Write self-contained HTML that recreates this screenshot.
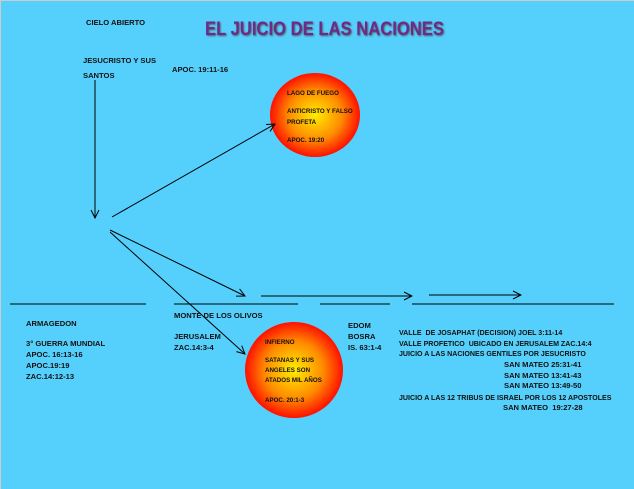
<!DOCTYPE html>
<html><head><meta charset="utf-8"><style>
body{margin:0;width:634px;height:489px;overflow:hidden;background:#55d0fc;font-family:"Liberation Sans",sans-serif}
.t{position:absolute;font-size:7.6px;font-weight:bold;color:#111;line-height:11px;white-space:nowrap}
</style></head><body>
<div style="position:absolute;left:0;top:0;width:634px;height:489px;border-top:1px solid #ccc;border-left:1px solid #ccc;box-sizing:border-box"></div>
<svg width="634" height="489" style="position:absolute;left:0;top:0">
<defs>
<radialGradient id="g1" cx="50%" cy="50%" r="50%"><stop offset="0" stop-color="#ffee00"/><stop offset="0.6" stop-color="#ff8a00"/><stop offset="1" stop-color="#ff1000"/></radialGradient>
<marker id="a" markerWidth="10" markerHeight="10" refX="9" refY="5" orient="auto" markerUnits="userSpaceOnUse"><path d="M1,1 L9,5 L1,9" fill="none" stroke="#000" stroke-width="1"/></marker>
</defs>
<ellipse cx="315" cy="115" rx="45" ry="42" fill="url(#g1)"/>
<ellipse cx="294" cy="370" rx="49" ry="48" fill="url(#g1)"/>
<g stroke="#000" stroke-width="1" fill="none">
<line x1="95" y1="80" x2="95" y2="218" marker-end="url(#a)"/>
<line x1="112" y1="217" x2="275" y2="124" marker-end="url(#a)"/>
<line x1="110" y1="230" x2="245" y2="296" marker-end="url(#a)"/>
<line x1="110" y1="232" x2="245" y2="354" marker-end="url(#a)"/>
<line x1="261" y1="296" x2="412" y2="296" marker-end="url(#a)"/>
<line x1="429" y1="295" x2="521" y2="295" marker-end="url(#a)"/>
<line x1="10" y1="304" x2="146" y2="304"/>
<line x1="174" y1="304" x2="298" y2="304"/>
<line x1="320" y1="304" x2="390" y2="304"/>
<line x1="412" y1="304" x2="614" y2="304"/>
</g>
</svg>
<div style="position:absolute;left:205px;top:19px;font-size:19px;font-weight:bold;color:#6b2a8c;text-shadow:1px 1px 2px #555;white-space:nowrap;transform:scaleX(0.875);transform-origin:0 0">EL JUICIO DE LAS NACIONES</div>
<div class="t" style="left:86px;top:17px">CIELO ABIERTO</div>
<div class="t" style="left:83px;top:53px;line-height:15px">JESUCRISTO Y SUS<br>SANTOS</div>
<div class="t" style="left:172px;top:64px">APOC. 19:11-16</div>
<div class="t" style="left:287px;top:88px;font-size:6.2px">LAGO DE FUEGO</div>
<div class="t" style="left:287px;top:106px;font-size:6.2px">ANTICRISTO Y FALSO<br>PROFETA</div>
<div class="t" style="left:287px;top:135px;font-size:6.2px">APOC. 19:20</div>
<div class="t" style="left:26px;top:318px">ARMAGEDON</div>
<div class="t" style="left:26px;top:338px">3° GUERRA MUNDIAL<br>APOC. 16:13-16<br>APOC.19:19<br>ZAC.14:12-13</div>
<div class="t" style="left:174px;top:310px">MONTE DE LOS OLIVOS</div>
<div class="t" style="left:174px;top:331px">JERUSALEM<br>ZAC.14:3-4</div>
<div class="t" style="left:348px;top:320px">EDOM<br>BOSRA<br>IS. 63:1-4</div>
<div class="t" style="left:265px;top:338px;font-size:6.2px;line-height:10px">INFIERNO</div>
<div class="t" style="left:265px;top:356px;font-size:6.2px;line-height:10px">SATANAS Y SUS<br>ANGELES SON<br>ATADOS MIL AÑOS</div>
<div class="t" style="left:265px;top:395px;font-size:6.2px">APOC. 20:1-3</div>
<div class="t" style="left:399px;top:328px;line-height:10.5px;transform:scaleX(0.93);transform-origin:0 0">VALLE &nbsp;DE JOSAPHAT (DECISION) JOEL 3:11-14<br>VALLE PROFETICO &nbsp;UBICADO EN JERUSALEM ZAC.14:4<br>JUICIO A LAS NACIONES GENTILES POR JESUCRISTO</div>
<div class="t" style="left:504px;top:360px;line-height:10.5px">SAN MATEO 25:31-41<br>SAN MATEO 13:41-43<br>SAN MATEO 13:49-50</div>
<div class="t" style="left:399px;top:392px;transform:scaleX(0.93);transform-origin:0 0">JUICIO A LAS 12 TRIBUS DE ISRAEL POR LOS 12 APOSTOLES</div>
<div class="t" style="left:503px;top:402px">SAN MATEO &nbsp;19:27-28</div>
</body></html>
